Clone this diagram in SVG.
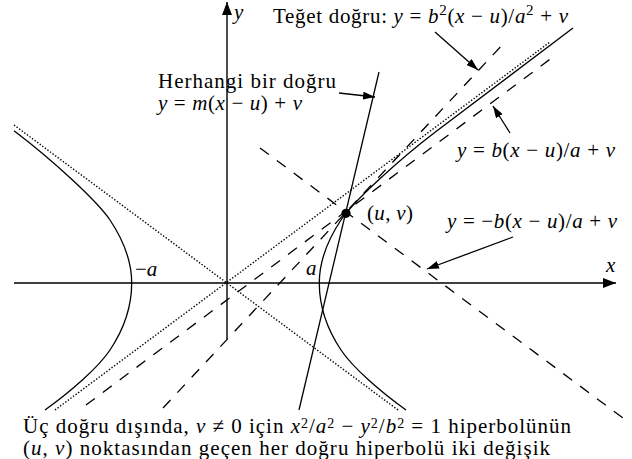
<svg xmlns="http://www.w3.org/2000/svg" width="632" height="459" viewBox="0 0 632 459">
<defs>
<marker id="ah" viewBox="0 0 12 8" refX="12" refY="4" markerWidth="12" markerHeight="8" markerUnits="userSpaceOnUse" orient="auto">
<path d="M0,0 L12,4 L0,8 Z" fill="#000"/>
</marker>
<marker id="axh" viewBox="0 0 13 10" refX="13" refY="5" markerWidth="13" markerHeight="10" markerUnits="userSpaceOnUse" orient="auto">
<path d="M0,0 L13,5 L0,10 Z" fill="#000"/>
</marker>
</defs>
<style>
text{font-family:'Liberation Serif','Times New Roman',serif;fill:#000}
.t{font-size:21px}
.b{font-size:21px}
.i{font-style:italic}
.sol{fill:none;stroke:#000;stroke-width:1.3}
.ax{fill:none;stroke:#000;stroke-width:1.4;marker-end:url(#axh)}
.dash{fill:none;stroke:#000;stroke-width:1.3;stroke-dasharray:11 10}
.dot{fill:none;stroke:#000;stroke-width:1.4;stroke-dasharray:1.4 1.8}
.arr{fill:none;stroke:#000;stroke-width:1.3;marker-end:url(#ah)}
</style>
<rect width="632" height="459" fill="#fff"/>

<g id="axes">
<line class="ax" x1="14" y1="283" x2="616" y2="283"/>
<line class="ax" x1="227" y1="339" x2="227" y2="2"/>
</g>

<g id="asymptotes">
<line class="dot" x1="55" y1="410" x2="550" y2="42"/>
<line class="dot" x1="14" y1="125" x2="398" y2="410"/>
</g>

<g id="hyperbola">
<path class="sol" d="M14,130.7 C54,161 98,202 110,220 C122,238 131.7,258 131.7,283 C131.7,308 122,332 110,350 C98,368 70,392 45,410"/>
<path class="sol" d="M406,410 C381,392 353,368 341,350 C329,332 319.3,308 319.3,283 C319.3,258 329,238 341,220 C353,202 397,161 437,130.7 L573,28"/>
</g>

<g id="lines">
<line class="dash" x1="86" y1="405" x2="553" y2="57"/>
<line class="dash" x1="163" y1="408" x2="505" y2="42"/>
<line class="dash" x1="260" y1="148" x2="627" y2="421"/>
<line class="sol" x1="379" y1="72" x2="299" y2="410"/>
</g>

<g id="point">
<circle cx="346" cy="213.3" r="4.6" fill="#000"/>
</g>

<g id="connectors">
<line class="arr" x1="435" y1="32" x2="478" y2="70"/>
<line class="arr" x1="339" y1="93" x2="375" y2="97"/>
<line class="arr" x1="510" y1="133" x2="493" y2="106"/>
<line class="arr" x1="513" y1="237" x2="427" y2="269"/>
</g>

<g id="labels">
<text class="t i" x="234" y="19">y</text>
<text class="t i" x="606" y="272">x</text>
<text class="t" x="135" y="276">−<tspan class="i">a</tspan></text>
<text class="t i" x="306" y="275">a</text>
<text class="t" x="367" y="220" textLength="46">(<tspan class="i">u</tspan>, <tspan class="i">v</tspan>)</text>
<text class="t" x="273" y="23" textLength="295">Teğet doğru: <tspan class="i">y</tspan> = <tspan class="i">b</tspan><tspan font-size="15" dy="-8">2</tspan><tspan dy="8">(</tspan><tspan class="i">x</tspan> − <tspan class="i">u</tspan>)/<tspan class="i">a</tspan><tspan font-size="15" dy="-8">2</tspan><tspan dy="8"> + </tspan><tspan class="i">v</tspan></text>
<text class="t" x="158" y="88" textLength="178">Herhangi bir doğru</text>
<text class="t" x="158" y="110" textLength="144"><tspan class="i">y</tspan> = <tspan class="i">m</tspan>(<tspan class="i">x</tspan> − <tspan class="i">u</tspan>) + <tspan class="i">v</tspan></text>
<text class="t" x="457" y="157" textLength="158"><tspan class="i">y</tspan> = <tspan class="i">b</tspan>(<tspan class="i">x</tspan> − <tspan class="i">u</tspan>)/<tspan class="i">a</tspan> + <tspan class="i">v</tspan></text>
<text class="t" x="447" y="228" textLength="170"><tspan class="i">y</tspan> = −<tspan class="i">b</tspan>(<tspan class="i">x</tspan> − <tspan class="i">u</tspan>)/<tspan class="i">a</tspan> + <tspan class="i">v</tspan></text>
<text class="b" x="23" y="433" textLength="548">Üç doğru dışında, <tspan class="i">v</tspan> ≠ 0 için <tspan class="i">x</tspan><tspan font-size="14" dy="-5">2</tspan><tspan dy="5">/</tspan><tspan class="i">a</tspan><tspan font-size="14" dy="-5">2</tspan><tspan dy="5"> − </tspan><tspan class="i">y</tspan><tspan font-size="14" dy="-5">2</tspan><tspan dy="5">/</tspan><tspan class="i">b</tspan><tspan font-size="14" dy="-5">2</tspan><tspan dy="5"> = 1 hiperbolünün</tspan></text>
<text class="b" x="23" y="455" textLength="527">(<tspan class="i">u</tspan>, <tspan class="i">v</tspan>) noktasından geçen her doğru hiperbolü iki değişik</text>
</g>
</svg>
